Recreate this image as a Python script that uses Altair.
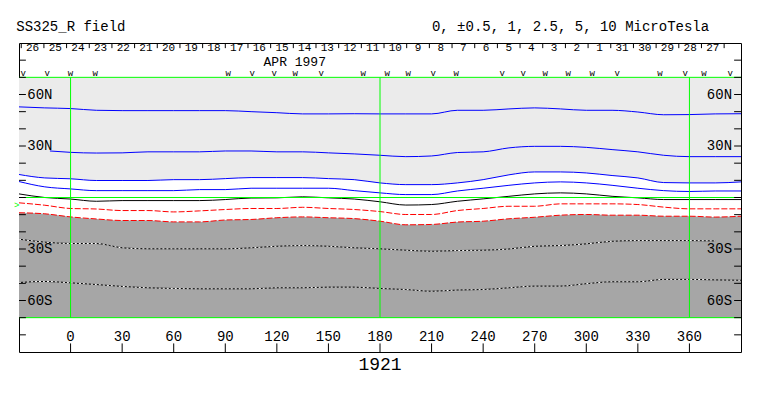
import altair as alt
import pandas as pd

# ---------------- data ----------------
LON = [-30, -15, 0, 15, 30, 45, 60, 75, 90, 105, 120, 135, 150, 165, 180,
       195, 210, 225, 240, 255, 270, 285, 300, 315, 330, 345, 360, 375, 390]

BLUE1 = [52.8, 52.2, 51.8, 50.8, 50.6, 50.6, 50.6, 50.6, 50.6, 50.0, 49.4, 48.7, 48.7, 48.8, 48.7,
         48.7, 48.7, 50.8, 50.8, 51.6, 52.2, 51.6, 50.8, 50.8, 49.8, 48.2, 48.3, 48.7, 48.8]
BLUE2_LON = [-12, 0, 15, 30, 45, 60, 75, 90, 105, 120, 135, 150, 165, 180,
             195, 210, 225, 240, 255, 270, 285, 300, 315, 330, 345, 360, 375, 390]
BLUE2 = [27.1, 26.3, 25.9, 26.0, 26.6, 26.6, 26.6, 27.1, 27.1, 26.6, 26.6, 26.0, 25.4, 24.6,
         23.8, 24.2, 26.2, 26.6, 28.9, 29.8, 29.8, 29.2, 27.9, 26.6, 24.6, 23.8, 23.8, 23.8]
BLUE3 = [13.4, 11.4, 10.9, 9.9, 9.9, 9.9, 10.4, 10.4, 11.0, 11.6, 11.6, 11.6, 11.0, 10.4, 8.5,
         7.5, 7.5, 8.5, 10.4, 13.2, 14.9, 14.9, 14.3, 12.8, 11.4, 8.7, 8.5, 8.5, 9.1]
BLUE4 = [9.3, 6.2, 5.0, 4.0, 4.0, 4.0, 4.0, 4.6, 4.6, 5.4, 5.4, 5.4, 5.4, 4.0, 2.7,
         1.7, 1.7, 3.8, 5.4, 7.1, 8.5, 9.1, 8.5, 7.1, 5.4, 4.0, 3.5, 3.8, 3.8]
BLACK = [2.1, 0.0, -0.9, -2.2, -1.8, -1.8, -1.8, -1.8, -1.2, -0.3, -0.2, 0.4, -0.2, -0.9, -2.5,
         -4.4, -4.1, -2.2, -0.8, 0.7, 2.1, 2.7, 2.1, 0.7, -0.2, -1.2, -1.2, -1.2, -1.2]
RED1 = [-3.1, -4.5, -6.4, -6.7, -7.6, -7.6, -8.4, -7.8, -7.0, -6.4, -6.4, -5.7, -6.4, -7.0, -8.2,
        -9.9, -9.9, -7.6, -6.4, -5.1, -5.1, -3.7, -3.7, -3.7, -4.1, -5.6, -6.6, -6.6, -6.6]
RED2 = [-8.9, -9.5, -11.3, -12.5, -13.4, -13.4, -14.2, -14.2, -13.1, -12.8, -11.8, -11.3, -11.8, -12.3, -13.8,
        -15.9, -15.7, -14.3, -13.8, -12.4, -11.5, -10.3, -9.9, -10.3, -10.3, -10.9, -10.9, -11.4, -10.9]
WHITE1_LON = LON[:-1]
WHITE1 = [-24.3, -26.0, -26.8, -26.8, -29.3, -29.9, -29.9, -29.9, -29.9, -29.3, -28.4, -28.0, -28.4, -29.3,
          -29.9, -30.7, -31.3, -30.9, -30.7, -30.0, -28.4, -28.0, -27.0, -25.5, -25.1, -25.1, -25.1, -25.3]
WHITE2 = [-49.5, -48.9, -49.7, -50.7, -51.8, -52.6, -53.0, -53.2, -53.2, -53.2, -52.6, -52.6, -52.2, -52.2, -53.0,
          -53.6, -54.6, -53.9, -53.6, -52.6, -51.6, -51.6, -50.2, -49.1, -49.1, -47.7, -47.7, -48.0, -48.2]

# observation markers along the top band
MARK_LON = [-27.5, -13.6, 0, 14.4, 91.7, 105.7, 118.5, 130.7, 145.8, 170.2, 184.2, 196.4,
            210.9, 224.3, 251.1, 263.3, 276.1, 289.5, 303.4, 318.0, 342.9, 357.5, 368.5, 383.7]
MARK_TXT = ["v", "v", "w", "w", "w", "v", "v", "w", "v", "w", "w", "w",
            "v", "w", "v", "v", "w", "w", "w", "v", "w", "v", "w", "v"]

# day labels (descending with Carrington longitude)
DAYS = [str(d) for d in range(26, 0, -1)] + ["31", "30", "29", "28", "27"]
DAY0_LON = -28.7
DAY_STEP = 13.19

LON_TICKS = [0, 30, 60, 90, 120, 150, 180, 210, 240, 270, 300, 330, 360]
LAT_TICKS = [-80, -70, -60, -50, -40, -30, -20, -10, 0, 10, 20, 30, 40, 50, 60, 70, 80]
LAT_LABEL_VALS = [60, 30, -30, -60]
LAT_LABEL_TXT = ["60N", "30N", "30S", "60S"]
GREEN_LON = [0, 180, 360]
GREEN_LAT = [70, 0, -70]

TITLE_LEFT = "SS325_R field"
TITLE_RIGHT = "0, \u00b10.5, 1, 2.5, 5, 10 MicroTesla"
MONTH_TXT = "APR 1997"
ROT_TXT = "1921"

# ---------------- helpers ----------------
XS = alt.Scale(domain=[-30, 390], nice=False, zero=False)
YS = alt.Scale(domain=[-90, 90], nice=False, zero=False)
FONT = "Liberation Mono"


def X(f):
    return alt.X(f"{f}:Q", scale=XS, axis=None)


def Y(f):
    return alt.Y(f"{f}:Q", scale=YS, axis=None)


def series(name, lons, lats):
    return pd.DataFrame({"lon": lons, "lat": lats, "name": name})


def lines(dfs, **kw):
    return alt.Chart(pd.concat(dfs)).mark_line(interpolate="monotone", strokeWidth=1, **kw).encode(
        x=X("lon"), y=Y("lat"), detail="name:N")


def text_layer(df, **kw):
    return alt.Chart(df).mark_text(font=FONT, **kw).encode(x=X("lon"), y=Y("lat"), text="text:N")


# ---------------- background regions ----------------
plot_bg = pd.DataFrame({"lon": [-30], "lon2": [390], "lat": [-70], "lat2": [70]})
bg = alt.Chart(plot_bg).mark_rect(color="#ebebeb").encode(
    x=X("lon"), x2="lon2:Q", y=Y("lat"), y2="lat2:Q")

band = pd.DataFrame({"lon": LON, "b3": BLUE3, "r2": RED2, "bottom": [-70] * len(LON)})
white_band = alt.Chart(band).mark_area(color="white", interpolate="monotone").encode(
    x=X("lon"), y=Y("b3"), y2="r2:Q")
dark_band = alt.Chart(band).mark_area(color="#a6a6a6", interpolate="monotone").encode(
    x=X("lon"), y=Y("r2"), y2="bottom:Q")

# ---------------- contour lines ----------------
blue = lines([series("b1", LON, BLUE1), series("b2", BLUE2_LON, BLUE2),
              series("b3", LON, BLUE3), series("b4", LON, BLUE4)], color="#0000ff")
black = lines([series("k", LON, BLACK)], color="black")
red = lines([series("r1", LON, RED1), series("r2", LON, RED2)], color="#ff0000", strokeDash=[6, 2])
neg_dfs = [series("w1", WHITE1_LON, WHITE1), series("w2", LON, WHITE2)]
white_base = lines(neg_dfs, color="black")
white_dash = lines(neg_dfs, color="white", strokeDash=[2, 2])

# ---------------- green reference lines ----------------
gv = pd.DataFrame({"lon": GREEN_LON, "lat": [-70] * 3, "lat2": [70] * 3})
green_v = alt.Chart(gv).mark_rule(color="#00ff00", strokeWidth=1).encode(
    x=X("lon"), y=Y("lat"), y2="lat2:Q")
gh = pd.DataFrame({"lat": GREEN_LAT, "lon": [-30] * 3, "lon2": [390] * 3})
green_h = alt.Chart(gh).mark_rule(color="#00ff00", strokeWidth=1).encode(
    y=Y("lat"), x=X("lon"), x2="lon2:Q")

# ---------------- ticks ----------------
lt_left = pd.DataFrame({"lat": LAT_TICKS, "lon": [-30] * len(LAT_TICKS), "lon2": [-26] * len(LAT_TICKS)})
lt_right = pd.DataFrame({"lat": LAT_TICKS, "lon": [386] * len(LAT_TICKS), "lon2": [390] * len(LAT_TICKS)})
lat_ticks = alt.Chart(pd.concat([lt_left, lt_right])).mark_rule(color="black", strokeWidth=1).encode(
    y=Y("lat"), x=X("lon"), x2="lon2:Q")

lon_t = pd.DataFrame({"lon": LON_TICKS, "lat": [-90] * len(LON_TICKS), "lat2": [-85] * len(LON_TICKS)})
lon_ticks = alt.Chart(lon_t).mark_rule(color="black", strokeWidth=1).encode(
    x=X("lon"), y=Y("lat"), y2="lat2:Q")

day_tick_lon = [DAY0_LON + DAY_STEP * k for k in range(len(DAYS) + 1)]
day_t = pd.DataFrame({"lon": day_tick_lon, "lat": [90] * len(day_tick_lon), "lat2": [87] * len(day_tick_lon)})
day_ticks = alt.Chart(day_t).mark_rule(color="black", strokeWidth=1).encode(
    x=X("lon"), y=Y("lat"), y2="lat2:Q")

# ---------------- texts ----------------
day_lab = pd.DataFrame({"lon": [DAY0_LON + DAY_STEP * (k + 0.5) for k in range(len(DAYS))],
                        "lat": [87.0] * len(DAYS), "text": DAYS})
day_text = text_layer(day_lab, fontSize=11, align="center", baseline="middle", color="black")

marks = pd.DataFrame({"lon": MARK_LON, "lat": [70.8] * len(MARK_LON), "text": MARK_TXT})
mark_text = text_layer(marks, fontSize=9, align="center", baseline="alphabetic", color="black")

month = text_layer(pd.DataFrame({"lon": [130.4], "lat": [79.0], "text": [MONTH_TXT]}),
                   fontSize=13, align="center", baseline="middle", color="black")

lon_lab = pd.DataFrame({"lon": LON_TICKS, "lat": [-81.2] * len(LON_TICKS),
                        "text": [str(v) for v in LON_TICKS]})
lon_text = text_layer(lon_lab, fontSize=14, align="center", baseline="middle", color="black")

lat_left = pd.DataFrame({"lon": [-25.2] * 4, "lat": LAT_LABEL_VALS, "text": LAT_LABEL_TXT})
lat_right = pd.DataFrame({"lon": [384.8] * 4, "lat": LAT_LABEL_VALS, "text": LAT_LABEL_TXT})
lat_text_l = text_layer(lat_left, fontSize=14, align="left", baseline="middle", color="black")
lat_text_r = text_layer(lat_right, fontSize=14, align="right", baseline="middle", color="black")

t_left = text_layer(pd.DataFrame({"lon": [-31.6], "lat": [99.5], "text": [TITLE_LEFT]}),
                    fontSize=14, align="left", baseline="middle", color="black")
t_right = text_layer(pd.DataFrame({"lon": [210.2], "lat": [99.5], "text": [TITLE_RIGHT]}),
                     fontSize=14, align="left", baseline="middle", color="black")
rot = text_layer(pd.DataFrame({"lon": [180], "lat": [-97.7], "text": [ROT_TXT]}),
                 fontSize=18, align="center", baseline="middle", color="black")
dip = text_layer(pd.DataFrame({"lon": [-31.3], "lat": [-4.4], "text": [">"]}),
                 fontSize=9, align="center", baseline="middle", color="#00ff00")

chart = alt.layer(
    bg, white_band, dark_band,
    blue, black, red, white_base, white_dash,
    green_v, green_h,
    lat_ticks, lon_ticks, day_ticks,
    day_text, mark_text, month, lon_text, lat_text_l, lat_text_r,
    t_left, t_right, rot, dip,
).properties(
    width=722, height=309,
    autosize=alt.AutoSizeParams(type="none"),
    padding={"left": 11, "top": 35, "right": 14, "bottom": 36},
).configure_view(stroke="black", strokeWidth=1)

chart.save("out.html", embed_options={"renderer": "svg", "actions": False})
